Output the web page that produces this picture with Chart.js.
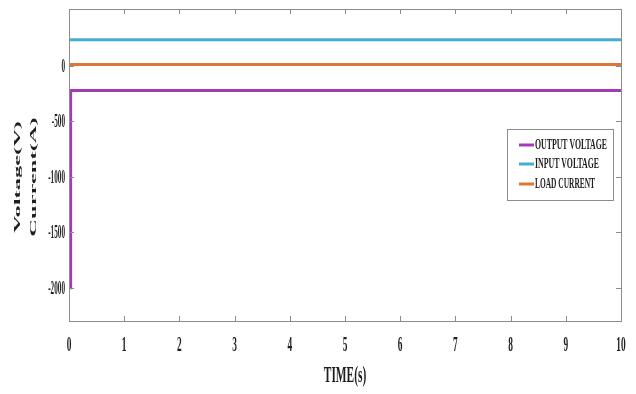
<!DOCTYPE html>
<html>
<head>
<meta charset="utf-8">
<script src="https://cdn.jsdelivr.net/npm/chart.js@4.4.1/dist/chart.umd.min.js"></script>
<style>
  html, body { margin: 0; padding: 0; background: #fff; }
  #wrap { width: 636px; height: 394px; position: relative; }
</style>
</head>
<body>
<div id="wrap"><canvas id="c"></canvas></div>
<script>
// данные (время, с)
const outputTime = [0, 0.03, 0.03, 10];
const outputVoltage = [-2000, -2000, -225, -225];
const inputTime = [0, 10];
const inputVoltage = [232, 232];
const loadTime = [0, 10];
const loadCurrent = [10, 10];

const xTickValues = [0, 1, 2, 3, 4, 5, 6, 7, 8, 9, 10];
const yTickValues = [0, -500, -1000, -1500, -2000];
const seriesNames = ['OUTPUT VOLTAGE', 'INPUT VOLTAGE', 'LOAD CURRENT'];
const xTitle = 'TIME(s)';
const yTitle = ['Voltage(V)', 'Current(A)'];

const colors = {
  output: '#A23CB4',
  input: '#45ACD6',
  load: '#E07636',
  frame: '#8c8c8c',
  text: '#1e1e1e'
};

const serif = '"Liberation Serif", "DejaVu Serif", serif';

function toPoints(xs, ys) {
  return xs.map((x, i) => ({ x: x, y: ys[i] }));
}

// текст, растянутый по вертикали (в оригинале картинка сжата по ширине)
function stretchedText(ctx, text, x, y, size, sx, sy, align, rot) {
  ctx.save();
  ctx.translate(x, y);
  if (rot) ctx.rotate(rot);
  ctx.scale(sx, sy);
  ctx.font = 'bold ' + size + 'px ' + serif;
  ctx.fillStyle = colors.text;
  ctx.textAlign = align || 'center';
  ctx.textBaseline = 'middle';
  ctx.fillText(text, 0, 0);
  ctx.restore();
}

// рамка + внутренние засечки
const framePlugin = {
  id: 'frame',
  afterDatasetsDraw(chart) {
    const { ctx, chartArea: a, scales } = chart;
    ctx.save();
    ctx.strokeStyle = colors.frame;
    ctx.lineWidth = 1;
    ctx.strokeRect(a.left + 0.5, a.top + 0.5, a.right - a.left, a.bottom - a.top);
    const len = 5;
    ctx.beginPath();
    xTickValues.forEach(v => {
      const px = Math.round(scales.x.getPixelForValue(v)) + 0.5;
      ctx.moveTo(px, a.bottom); ctx.lineTo(px, a.bottom - len);
      ctx.moveTo(px, a.top); ctx.lineTo(px, a.top + len);
    });
    yTickValues.forEach(v => {
      const py = Math.round(scales.y.getPixelForValue(v)) + 0.5;
      ctx.moveTo(a.left, py); ctx.lineTo(a.left + len, py);
      ctx.moveTo(a.right, py); ctx.lineTo(a.right - len, py);
    });
    ctx.stroke();
    ctx.restore();
  }
};

// подписи осей и делений
const labelsPlugin = {
  id: 'axisText',
  afterDraw(chart) {
    const { ctx, chartArea: a, scales } = chart;
    xTickValues.forEach(v => {
      stretchedText(ctx, String(v), scales.x.getPixelForValue(v), a.bottom + 24, 11, 0.85, 2.0, 'center');
    });
    yTickValues.forEach(v => {
      stretchedText(ctx, String(v), a.left - 4, scales.y.getPixelForValue(v) + 1, 9, 0.8, 2.1, 'right');
    });
    stretchedText(ctx, xTitle, (a.left + a.right) / 2, a.bottom + 55, 12, 0.95, 2.0, 'center');
    const yMid = 177;
    stretchedText(ctx, yTitle[0], 18, yMid, 10, 2.45, 0.9, 'center', -Math.PI / 2);
    stretchedText(ctx, yTitle[1], 34, yMid, 10, 2.45, 0.9, 'center', -Math.PI / 2);
  }
};

// легенда внутри области графика
const legendPlugin = {
  id: 'boxLegend',
  afterDraw(chart) {
    const { ctx } = chart;
    const box = { x: 507, y: 129, w: 106, h: 71 };
    ctx.save();
    ctx.fillStyle = '#fff';
    ctx.fillRect(box.x, box.y, box.w, box.h);
    ctx.strokeStyle = colors.frame;
    ctx.lineWidth = 1;
    ctx.strokeRect(box.x + 0.5, box.y + 0.5, box.w, box.h);
    const rows = [145, 164, 184];
    const widths = [72, 64, 60];
    chart.data.datasets.forEach((ds, i) => {
      const y = rows[i];
      ctx.strokeStyle = ds.borderColor;
      ctx.lineWidth = 3;
      ctx.beginPath();
      ctx.moveTo(519, y); ctx.lineTo(534, y);
      ctx.stroke();
      ctx.font = 'bold 8px ' + serif;
      const w = ctx.measureText(ds.label).width;
      stretchedText(ctx, ds.label, 535, y, 8, widths[i] / w, 1.7, 'left');
    });
    ctx.restore();
  }
};

new Chart(document.getElementById('c'), {
  type: 'line',
  data: {
    datasets: [
      { label: seriesNames[0], data: toPoints(outputTime, outputVoltage), borderColor: colors.output },
      { label: seriesNames[1], data: toPoints(inputTime, inputVoltage), borderColor: colors.input },
      { label: seriesNames[2], data: toPoints(loadTime, loadCurrent), borderColor: colors.load }
    ].map(d => Object.assign(d, { borderWidth: 3, pointRadius: 0, tension: 0, fill: false }))
  },
  options: {
    responsive: true,
    maintainAspectRatio: false,
    animation: false,
    layout: { padding: { top: 9, right: 15, left: 0, bottom: 0 } },
    plugins: {
      legend: { display: false },
      tooltip: { enabled: false }
    },
    scales: {
      x: {
        type: 'linear',
        min: 0,
        max: 10,
        afterBuildTicks: s => { s.ticks = xTickValues.map(v => ({ value: v })); },
        afterFit: s => { s.height = 73; },
        grid: { display: false },
        border: { display: false },
        ticks: { display: false }
      },
      y: {
        type: 'linear',
        min: -2300,
        max: 510,
        afterBuildTicks: s => { s.ticks = yTickValues.map(v => ({ value: v })); },
        afterFit: s => { s.width = 69; },
        grid: { display: false },
        border: { display: false },
        ticks: { display: false }
      }
    }
  },
  plugins: [framePlugin, labelsPlugin, legendPlugin]
});
</script>
</body>
</html>
